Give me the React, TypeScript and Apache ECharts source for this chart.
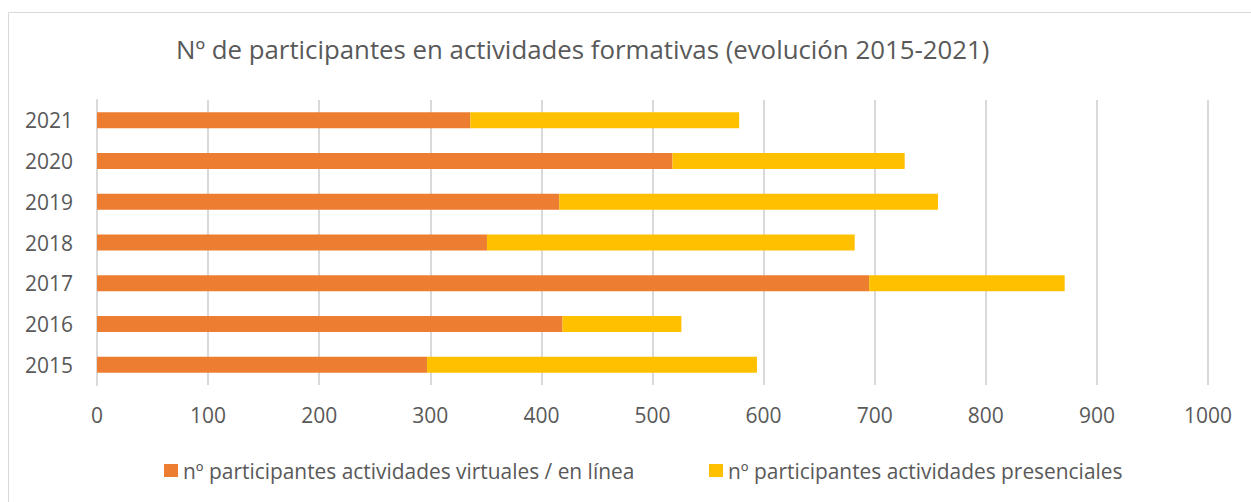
import React, { useEffect, useRef } from "react";
import * as echarts from "echarts";

const years = ["2015", "2016", "2017", "2018", "2019", "2020", "2021"];
const virtualVals = [297, 419, 695, 351, 416, 518, 336];
const presencialVals = [297, 107, 176, 331, 341, 209, 242];
const seriesNames = [
  "nº participantes actividades virtuales / en línea",
  "nº participantes actividades presenciales",
];
const titleText = "Nº de participantes en actividades formativas (evolución 2015-2021)";
const xMin = 0;
const xMax = 1000;
const xStep = 100;

const FONT = "'Open Sans', 'Noto Sans', sans-serif";
const TEXT = "#595959";
const GRID = "#d9d9d9";

export default function App() {
  const ref = useRef<HTMLDivElement>(null);
  useEffect(() => {
    if (!ref.current) return;
    const chart = echarts.init(ref.current, null, { renderer: "svg" });
    chart.setOption({
      animation: false,
      backgroundColor: "#ffffff",
      textStyle: { fontFamily: FONT },
      title: {
        text: titleText,
        left: 171,
        top: 31,
        textStyle: { fontFamily: FONT, fontSize: 25.8, fontWeight: "normal", color: TEXT },
      },
      graphic: [
        {
          type: "rect",
          shape: { x: 8.5, y: 12.5, width: 1300, height: 600 },
          style: { fill: "none", stroke: GRID, lineWidth: 1 },
          silent: true,
        },
      ],
      legend: [
        {
          data: [seriesNames[0]],
          left: 159,
          top: 455,
          icon: "rect",
          itemWidth: 14,
          itemHeight: 13,
          textStyle: { fontFamily: FONT, fontSize: 20.9, color: TEXT },
        },
        {
          data: [seriesNames[1]],
          left: 704,
          top: 455,
          icon: "rect",
          itemWidth: 14,
          itemHeight: 13,
          textStyle: { fontFamily: FONT, fontSize: 20.9, color: TEXT },
        },
      ],
      grid: { left: 97, right: 43, top: 100, height: 285, containLabel: false },
      xAxis: {
        type: "value",
        min: xMin,
        max: xMax,
        interval: xStep,
        axisLine: { show: false },
        axisTick: { show: false },
        splitLine: { show: true, lineStyle: { color: GRID, width: 2 } },
        axisLabel: {
          color: TEXT,
          fontSize: 21,
          fontFamily: FONT,
          margin: 19,
          formatter: (v: number) => String(v),
        },
      },
      yAxis: {
        type: "category",
        data: years,
        axisLine: { show: true, lineStyle: { color: GRID, width: 2 } },
        axisTick: { show: false },
        axisLabel: { color: TEXT, fontSize: 21, fontFamily: FONT, margin: 24 },
      },
      series: [
        {
          name: seriesNames[0],
          type: "bar",
          stack: "total",
          data: virtualVals,
          barWidth: 16,
          itemStyle: { color: "#ED7D31" },
        },
        {
          name: seriesNames[1],
          type: "bar",
          stack: "total",
          data: presencialVals,
          barWidth: 16,
          itemStyle: { color: "#FFC000" },
        },
      ],
    });
    return () => chart.dispose();
  }, []);
  return (
    <div
      ref={ref}
      style={{ position: "absolute", left: 0, top: 0, width: 1251, height: 502 }}
    />
  );
}
